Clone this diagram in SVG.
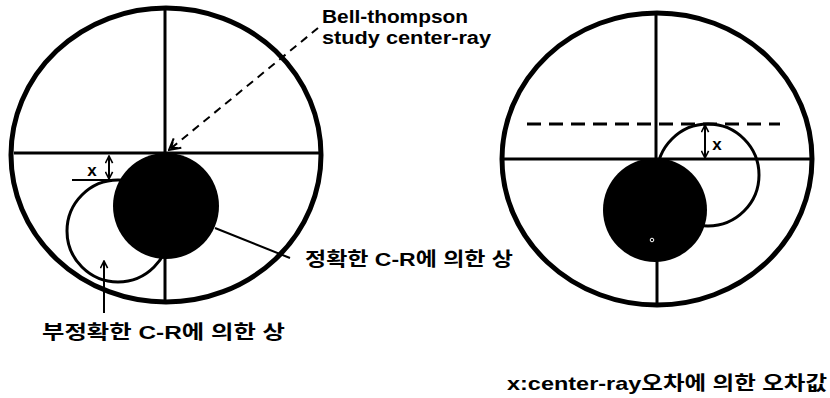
<svg xmlns="http://www.w3.org/2000/svg" width="830" height="398" viewBox="0 0 830 398">
<style>
.outer{fill:none;stroke:#000;stroke-width:5}
.ln{stroke:#000;stroke-width:3;fill:none}
.thin{stroke:#000;stroke-width:2;fill:none}
.ring{fill:none;stroke:#000;stroke-width:3}
.dot{fill:#000}
.t{font-family:"Liberation Sans","Noto Sans CJK KR",sans-serif;font-weight:bold;fill:#000}
</style>
<defs>
<marker id="open" viewBox="0 0 10 10" refX="9" refY="5" markerWidth="9" markerHeight="9" orient="auto-start-reverse" markerUnits="userSpaceOnUse">
<path d="M1,1 L9,5 L1,9" fill="none" stroke="#000" stroke-width="1.8"/>
</marker>
<marker id="dhead" viewBox="0 0 14 14" refX="13" refY="7" markerWidth="14" markerHeight="14" orient="auto" markerUnits="userSpaceOnUse">
<path d="M2,1 L13,7 L2,13 M5,3 L10,7 M5,11 L10,7" fill="none" stroke="#000" stroke-width="2"/>
</marker>
</defs>

<g id="left-view">
<ellipse class="outer" cx="166" cy="155" rx="155" ry="147"/>
<line class="ln" x1="14" y1="153" x2="322" y2="153"/>
<line class="ln" x1="165" y1="8" x2="165" y2="155"/>
<line class="ln" x1="165" y1="255" x2="165" y2="300"/>
<circle class="ring" cx="118" cy="231" r="51"/>
<circle class="dot" cx="166" cy="206" r="53"/>
<line class="thin" x1="72" y1="180" x2="120" y2="180"/>
</g>

<g id="right-view">
<ellipse class="outer" cx="657" cy="159" rx="155" ry="146"/>
<line class="ln" x1="503" y1="159" x2="814" y2="159"/>
<line class="ln" x1="656" y1="14" x2="656" y2="160"/>
<line class="ln" x1="657" y1="258" x2="657" y2="305"/>
<circle class="ring" cx="708" cy="175" r="51"/>
<circle class="dot" cx="655" cy="210" r="52"/>
<circle cx="652" cy="240" r="1.8" fill="none" stroke="#fff" stroke-width="1"/>
<line x1="527" y1="124" x2="780" y2="124" stroke="#000" stroke-width="3" stroke-dasharray="14,8"/>
</g>

<g id="connectors">
<line class="thin" x1="318" y1="28" x2="169" y2="150" stroke-dasharray="8,6" marker-end="url(#dhead)"/>
<line class="thin" x1="109" y1="156" x2="109" y2="179" marker-start="url(#open)" marker-end="url(#open)"/>
<line class="thin" x1="705" y1="125" x2="705" y2="158" marker-start="url(#open)" marker-end="url(#open)"/>
<line class="thin" x1="104" y1="313" x2="104" y2="261" marker-end="url(#open)"/>
<line class="thin" x1="215" y1="228" x2="290" y2="258"/>
</g>

<g id="labels">
<text class="t" x="322" y="23" font-size="18" textLength="146" lengthAdjust="spacingAndGlyphs">Bell-thompson</text>
<text class="t" x="322" y="44" font-size="18" textLength="169" lengthAdjust="spacingAndGlyphs">study center-ray</text>
<text class="t" x="92" y="176" font-size="17" text-anchor="middle">x</text>
<text class="t" x="717" y="150" font-size="17" text-anchor="middle">x</text>
<text class="t" x="305" y="266" font-size="19" textLength="208" lengthAdjust="spacingAndGlyphs">정확한 C-R에 의한 상</text>
<text class="t" x="42" y="339" font-size="19" textLength="243" lengthAdjust="spacingAndGlyphs">부정확한 C-R에 의한 상</text>
<text class="t" x="507" y="390" font-size="19" textLength="320" lengthAdjust="spacingAndGlyphs">x:center-ray오차에 의한 오차값</text>
</g>
</svg>
